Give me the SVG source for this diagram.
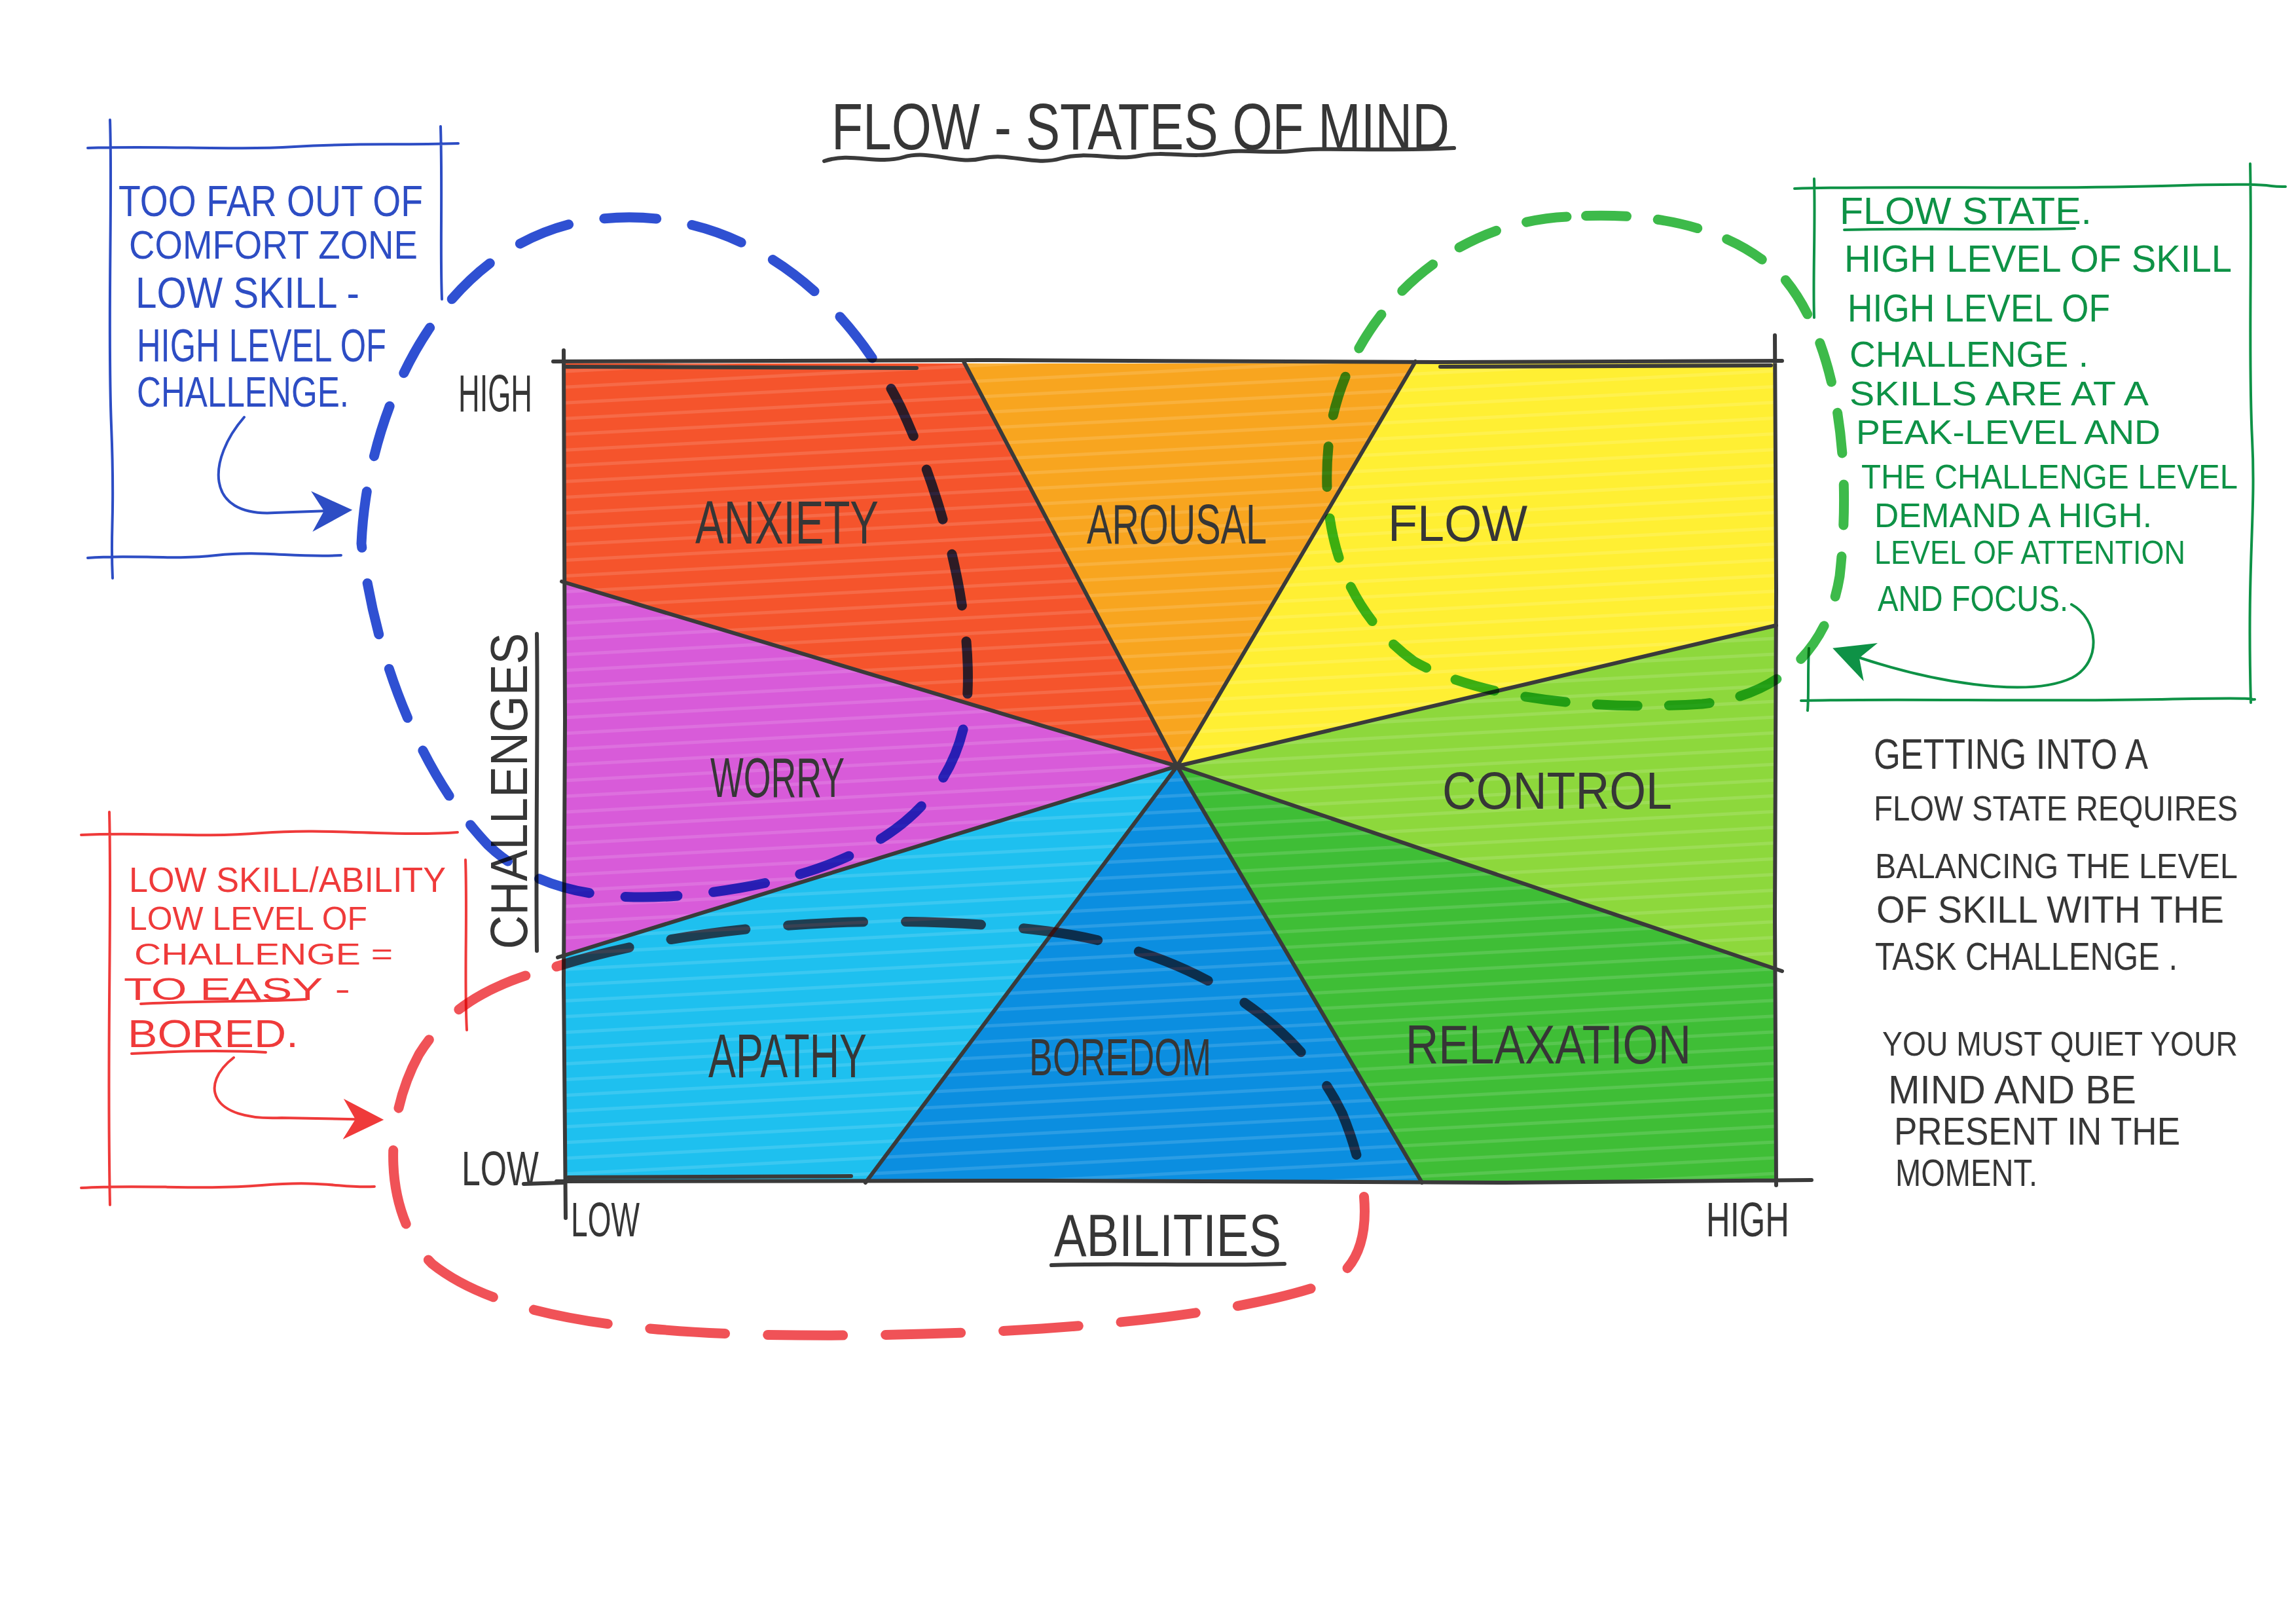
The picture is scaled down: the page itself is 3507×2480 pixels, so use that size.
<svg xmlns="http://www.w3.org/2000/svg" width="3507" height="2480" viewBox="0 0 3507 2480">
<defs>
<style>
text{font-family:"Liberation Sans","DejaVu Sans",Arial,sans-serif;}
.ink{fill:#363636}
.lbl{fill:#363636}
.edge{stroke:#3a3a3a;stroke-width:6;fill:none;stroke-linecap:round;stroke-linejoin:round}
.tb{fill:#2D4DC4}
.tr{fill:#EF3A3A}
.tg{fill:#0E9246}
.lb{stroke:#2D4DC4;stroke-width:4;fill:none;stroke-linecap:round}
.lr{stroke:#EF3A3A;stroke-width:4;fill:none;stroke-linecap:round}
.lg{stroke:#0E9246;stroke-width:4;fill:none;stroke-linecap:round}
.dash{fill:none;stroke-width:15;stroke-linecap:round;mix-blend-mode:multiply}
.hatch{fill:url(#hatch)}
</style>
<pattern id="hatch" width="80" height="24" patternUnits="userSpaceOnUse" patternTransform="rotate(-3)">
<rect x="0" y="9" width="80" height="5" fill="#ffffff" opacity="0.13"/>
</pattern>
<marker id="ahB" viewBox="0 0 10 10" refX="9" refY="5" markerWidth="62" markerHeight="62" markerUnits="userSpaceOnUse" orient="auto">
<path d="M0,0 L10,5 L0,10 L3,5 Z" fill="#2D4DC4"/>
</marker>
<marker id="ahR" viewBox="0 0 10 10" refX="9" refY="5" markerWidth="62" markerHeight="62" markerUnits="userSpaceOnUse" orient="auto">
<path d="M0,0 L10,5 L0,10 L3,5 Z" fill="#EF3A3A"/>
</marker>
<marker id="ahG" viewBox="0 0 10 10" refX="9" refY="5" markerWidth="62" markerHeight="62" markerUnits="userSpaceOnUse" orient="auto">
<path d="M0,0 L10,5 L0,10 L3,5 Z" fill="#0E9246"/>
</marker>
</defs>
<rect x="0" y="0" width="3507" height="2480" fill="#ffffff"/>

<g id="title">
<text class="ink" x="1270" y="228" font-size="100" textLength="944" lengthAdjust="spacingAndGlyphs">FLOW - STATES OF MIND</text>
<path class="edge" stroke-width="8" d="M1259 246 C1300 232,1340 252,1380 240 S1460 252,1500 242 S1580 254,1620 242 S1700 246,1740 238 S1820 242,1860 234 S1940 236,1980 230 S2100 232,2221 226"/>
</g>

<g id="chart">
<g id="sector-anxiety"><polygon points="861,555 1475,555 1798,1170 861,890" fill="#F5542C"/><polygon class="hatch" points="861,555 1475,555 1798,1170 861,890"/></g>
<g id="sector-arousal"><polygon points="1475,555 2160,555 1798,1170" fill="#F8A51F"/><polygon class="hatch" points="1475,555 2160,555 1798,1170"/></g>
<g id="sector-flow"><polygon points="2160,555 2711,555 2711,957 1798,1170" fill="#FFEF33"/><polygon class="hatch" points="2160,555 2711,555 2711,957 1798,1170"/></g>
<g id="sector-control"><polygon points="2711,957 2711,1481 1798,1170" fill="#8DD83C"/><polygon class="hatch" points="2711,957 2711,1481 1798,1170"/></g>
<g id="sector-relaxation"><polygon points="2711,1481 2711,1804 2170,1804 1798,1170" fill="#3FBE36"/><polygon class="hatch" points="2711,1481 2711,1804 2170,1804 1798,1170"/></g>
<g id="sector-boredom"><polygon points="2170,1804 1324,1804 1798,1170" fill="#0B8EE0"/><polygon class="hatch" points="2170,1804 1324,1804 1798,1170"/></g>
<g id="sector-apathy"><polygon points="1324,1804 861,1804 861,1458 1798,1170" fill="#1EC0EF"/><polygon class="hatch" points="1324,1804 861,1804 861,1458 1798,1170"/></g>
<g id="sector-worry"><polygon points="861,1458 861,890 1798,1170" fill="#D85BD9"/><polygon class="hatch" points="861,1458 861,890 1798,1170"/></g>

<path class="edge" d="M1798 1170 L1472 552 M1798 1170 L2162 552 M1798 1170 L2713 955 M1798 1170 L2722 1483 M1798 1170 L2172 1806 M1798 1170 L1322 1806 M1798 1170 L852 1462 M1798 1170 L858 888"/>
<path class="edge" d="M845 552 L1500 550 L2200 553 L2722 551 M2711 512 L2713 900 L2711 1400 L2713 1810 M850 1804 L1600 1803 L2300 1806 L2767 1802 M861 535 L863 1100 L861 1500 L864 1860"/>
<path class="edge" stroke-width="3" d="M865 560 L1400 562 M2200 560 L2705 558 M868 1798 L1300 1796"/>

<text class="lbl" x="1062" y="830" font-size="92" textLength="280" lengthAdjust="spacingAndGlyphs">ANXIETY</text>
<text class="lbl" x="1660" y="830" font-size="86" textLength="275" lengthAdjust="spacingAndGlyphs">AROUSAL</text>
<text class="lbl" x="2120" y="826" font-size="78" textLength="213" lengthAdjust="spacingAndGlyphs">FLOW</text>
<text class="lbl" x="1085" y="1217" font-size="86" textLength="205" lengthAdjust="spacingAndGlyphs">WORRY</text>
<text class="lbl" x="2203" y="1235" font-size="80" textLength="351" lengthAdjust="spacingAndGlyphs">CONTROL</text>
<text class="lbl" x="1082" y="1645" font-size="94" textLength="242" lengthAdjust="spacingAndGlyphs">APATHY</text>
<text class="lbl" x="1572" y="1642" font-size="80" textLength="278" lengthAdjust="spacingAndGlyphs">BOREDOM</text>
<text class="lbl" x="2147" y="1624" font-size="84" textLength="436" lengthAdjust="spacingAndGlyphs">RELAXATION</text>
</g>

<g id="axes">
<text class="ink" x="700" y="628" font-size="80" textLength="113" lengthAdjust="spacingAndGlyphs">HIGH</text>
<text class="ink" x="705" y="1810" font-size="74" textLength="118" lengthAdjust="spacingAndGlyphs">LOW</text>
<path class="edge" stroke-width="4" d="M800 1808 L860 1806"/>
<text class="ink" x="872" y="1888" font-size="74" textLength="105" lengthAdjust="spacingAndGlyphs">LOW</text>
<text class="ink" x="2606" y="1888" font-size="74" textLength="127" lengthAdjust="spacingAndGlyphs">HIGH</text>
<text class="ink" x="1610" y="1918" font-size="90" textLength="347" lengthAdjust="spacingAndGlyphs">ABILITIES</text>
<path class="edge" stroke-width="5" d="M1606 1932 C1700 1928,1850 1934,1962 1930"/>
<text class="ink" transform="translate(805,1208) rotate(-90)" x="0" y="0" text-anchor="middle" font-size="80" textLength="483" lengthAdjust="spacingAndGlyphs">CHALLENGES</text>
<path class="edge" stroke-width="5" d="M820 968 C822 1100,818 1300,820 1452"/>
</g>

<g id="note-blue">
<path class="lb" d="M134 226 C250 222,350 230,450 224 S600 222,700 219 M168 183 C172 300,164 500,170 650 S168 800,172 883 M673 193 C676 300,672 380,675 457 M134 852 C200 846,260 856,330 848 S450 852,521 848"/>
<text class="tb" x="181" y="330" font-size="66" textLength="465" lengthAdjust="spacingAndGlyphs">TOO FAR OUT OF</text>
<text class="tb" x="197" y="395" font-size="62" textLength="441" lengthAdjust="spacingAndGlyphs">COMFORT ZONE</text>
<text class="tb" x="207" y="470" font-size="66" textLength="342" lengthAdjust="spacingAndGlyphs">LOW SKILL -</text>
<text class="tb" x="209" y="552" font-size="70" textLength="381" lengthAdjust="spacingAndGlyphs">HIGH LEVEL OF</text>
<text class="tb" x="209" y="621" font-size="64" textLength="324" lengthAdjust="spacingAndGlyphs">CHALLENGE.</text>
</g>

<g id="note-red">
<path class="lr" d="M124 1275 C220 1270,300 1280,400 1272 S600 1278,699 1271 M167 1240 C171 1400,163 1600,168 1840 M711 1313 C714 1400,709 1500,713 1573 M124 1814 C220 1808,300 1818,400 1810 S520 1815,572 1812"/>
<text class="tr" x="197" y="1362" font-size="54" textLength="484" lengthAdjust="spacingAndGlyphs">LOW SKILL/ABILITY</text>
<text class="tr" x="197" y="1420" font-size="50" textLength="364" lengthAdjust="spacingAndGlyphs">LOW LEVEL OF</text>
<text class="tr" x="205" y="1473" font-size="46" textLength="395" lengthAdjust="spacingAndGlyphs">CHALLENGE =</text>
<text class="tr" x="189" y="1527" font-size="48" textLength="346" lengthAdjust="spacingAndGlyphs">TO EASY -</text>
<path class="lr" d="M215 1533 C300 1528,400 1530,468 1526"/>
<text class="tr" x="195" y="1599" font-size="60" textLength="261" lengthAdjust="spacingAndGlyphs">BORED.</text>
<path class="lr" d="M201 1609 C270 1605,350 1604,406 1607"/>
</g>

<g id="note-green">
<path class="lg" d="M2741 288 C2900 283,3100 290,3300 284 S3450 286,3491 285 M2771 273 C2773 350,2769 420,2771 485 M2763 990 C2761 1030,2763 1060,2761 1085 M3437 250 C3440 400,3434 550,3440 670 S3432 850,3438 1073 M2751 1070 C2900 1066,3100 1072,3300 1068 S3420 1070,3444 1068"/>
<text class="tg" x="2810" y="342" font-size="58" textLength="385" lengthAdjust="spacingAndGlyphs">FLOW STATE.</text>
<path class="lg" d="M2817 351 C2950 348,3050 352,3169 349"/>
<text class="tg" x="2817" y="415" font-size="58" textLength="592" lengthAdjust="spacingAndGlyphs">HIGH LEVEL OF SKILL</text>
<text class="tg" x="2822" y="491" font-size="60" textLength="401" lengthAdjust="spacingAndGlyphs">HIGH LEVEL OF</text>
<text class="tg" x="2825" y="560" font-size="56" textLength="365" lengthAdjust="spacingAndGlyphs">CHALLENGE .</text>
<text class="tg" x="2825" y="619" font-size="52" textLength="457" lengthAdjust="spacingAndGlyphs">SKILLS ARE AT A</text>
<text class="tg" x="2835" y="678" font-size="52" textLength="465" lengthAdjust="spacingAndGlyphs">PEAK-LEVEL AND</text>
<text class="tg" x="2843" y="746" font-size="52" textLength="575" lengthAdjust="spacingAndGlyphs">THE CHALLENGE LEVEL</text>
<text class="tg" x="2863" y="805" font-size="52" textLength="424" lengthAdjust="spacingAndGlyphs">DEMAND A HIGH.</text>
<text class="tg" x="2863" y="861" font-size="50" textLength="475" lengthAdjust="spacingAndGlyphs">LEVEL OF ATTENTION</text>
<text class="tg" x="2868" y="933" font-size="56" textLength="291" lengthAdjust="spacingAndGlyphs">AND FOCUS.</text>
</g>

<g id="note-black">
<text class="ink" x="2862" y="1174" font-size="64" textLength="419" lengthAdjust="spacingAndGlyphs">GETTING INTO A</text>
<text class="ink" x="2862" y="1253" font-size="54" textLength="556" lengthAdjust="spacingAndGlyphs">FLOW STATE REQUIRES</text>
<text class="ink" x="2864" y="1341" font-size="54" textLength="554" lengthAdjust="spacingAndGlyphs">BALANCING THE LEVEL</text>
<text class="ink" x="2866" y="1409" font-size="58" textLength="531" lengthAdjust="spacingAndGlyphs">OF SKILL WITH THE</text>
<text class="ink" x="2864" y="1481" font-size="60" textLength="462" lengthAdjust="spacingAndGlyphs">TASK CHALLENGE .</text>
<text class="ink" x="2875" y="1612" font-size="52" textLength="543" lengthAdjust="spacingAndGlyphs">YOU MUST QUIET YOUR</text>
<text class="ink" x="2884" y="1685" font-size="62" textLength="379" lengthAdjust="spacingAndGlyphs">MIND AND BE</text>
<text class="ink" x="2893" y="1748" font-size="60" textLength="437" lengthAdjust="spacingAndGlyphs">PRESENT IN THE</text>
<text class="ink" x="2895" y="1811" font-size="58" textLength="217" lengthAdjust="spacingAndGlyphs">MOMENT.</text>
</g>

<g id="connectors">
<path id="loop-blue" class="dash" stroke="#2F50D2" stroke-dasharray="80 55" d="M552 830 C560 640,660 390,880 340 C1080 300,1270 410,1375 620 C1455 790,1495 990,1472 1110 C1440 1250,1310 1325,1130 1356 C960 1385,830 1372,745 1290 C650 1190,575 1020,552 830 Z"/>
<path id="loop-green" class="dash" stroke="#3DBA4A" stroke-dasharray="62 48" d="M2393 331 C2210 340,2065 480,2033 650 C2010 800,2050 930,2160 1010 C2265 1070,2450 1085,2600 1075 C2720 1062,2792 990,2810 880 C2830 700,2805 520,2725 425 C2645 345,2525 322,2393 331 Z"/>
<path id="loop-red" class="dash" stroke="#EE3A40" stroke-opacity="0.88" stroke-dasharray="115 65" d="M850 1476 C1050 1412,1350 1390,1600 1422 C1800 1448,1975 1545,2050 1700 C2100 1820,2100 1935,2020 1962 C1850 2020,1500 2045,1150 2038 C950 2032,760 2010,660 1930 C590 1860,580 1720,640 1610 C690 1530,760 1500,850 1476 Z"/>
<path id="arrow-blue" class="lb" d="M373 637 C318 700,310 790,420 783 L532 779" marker-end="url(#ahB)"/>
<path id="arrow-red" class="lr" d="M357 1615 C305 1655,318 1712,430 1707 L580 1710" marker-end="url(#ahR)"/>
<path id="arrow-green" class="lg" d="M3164 923 C3205 945,3212 1010,3165 1035 C3100 1066,2950 1045,2805 992" marker-end="url(#ahG)"/>
</g>
</svg>
